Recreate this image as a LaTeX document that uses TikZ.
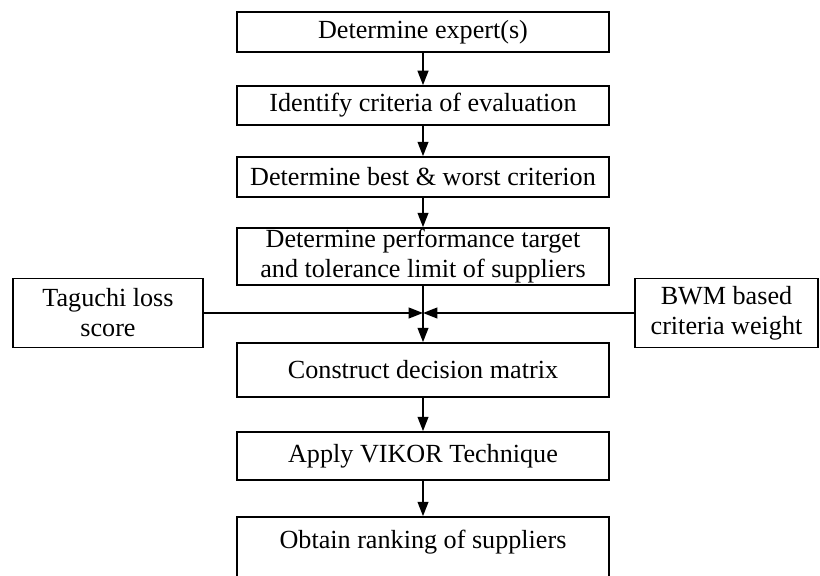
\documentclass[tikz,border=0pt]{standalone}
\usepackage{fontspec}
\setmainfont{Liberation Serif}
\usetikzlibrary{arrows.meta,positioning}

\begin{document}
\begin{tikzpicture}[font=\fontsize{18.6}{21.4}\selectfont,
  stepbox/.style={draw,line width=1.2pt,minimum width=9.3cm,align=center,inner sep=1pt},
  sidebox/.style={draw,line width=1.2pt,minimum height=1.725cm,align=center,inner sep=1pt},
  flow/.style={line width=1.2pt,-{Triangle[length=0.36cm,width=0.27cm]}}]
  \useasboundingbox (0,0) rectangle (20.5,14.375);
  \node[stepbox,minimum height=1.0cm] (expert) at (10.575,13.575) {Determine expert(s)};
  \node[stepbox,minimum height=0.975cm] (criteria) at (10.575,11.7375) {Identify criteria of evaluation};
  \node[stepbox,minimum height=1.0cm] (bestworst) at (10.575,9.95) {Determine best \& worst criterion};
  \node[stepbox,minimum height=1.425cm] (target) at (10.575,7.9625) {Determine performance target\\and tolerance limit of suppliers};
  \node[stepbox,minimum height=1.35cm] (matrix) at (10.575,5.125) {Construct decision matrix};
  \node[stepbox,minimum height=1.2cm] (vikor) at (10.575,2.975) {Apply VIKOR Technique};
  \node[stepbox,minimum height=1.6cm,text depth=0.5cm] (ranking) at (10.575,0.65) {Obtain ranking of suppliers};
  \node[sidebox,minimum width=4.75cm] (taguchi) at (2.7,6.55) {Taguchi loss\\score};
  \node[sidebox,minimum width=4.575cm] (bwm) at (18.1625,6.55) {BWM based\\criteria weight};
  \coordinate (merge) at (target.south |- taguchi.east);
  \foreach \a/\b in {expert/criteria,criteria/bestworst,bestworst/target,target/matrix,matrix/vikor,vikor/ranking}
    {\draw[flow] (\a) -- (\b);}
  \draw[flow] (taguchi) -- (merge);
  \draw[flow] (bwm) -- (merge);
\end{tikzpicture}
\end{document}
